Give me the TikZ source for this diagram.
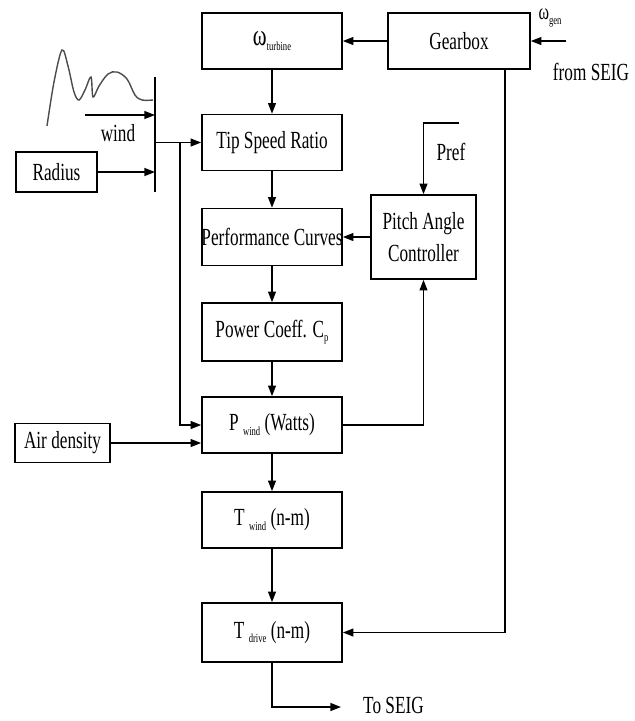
\documentclass[tikz,border=0pt]{standalone}
\usepackage{fontspec}
\setmainfont{Liberation Serif}[FakeStretch=0.7]
\usetikzlibrary{arrows.meta, positioning}
\tikzstyle{block} = [draw, line width=1pt, minimum width=2.8cm, minimum height=1.12cm, inner sep=1pt, align=center]
\tikzstyle{arrow} = [line width=0.8pt,-{Triangle[length=6pt,width=4.5pt]}]
\newcommand{\lowsub}[1]{\raisebox{-0.4ex}{\fontsize{7}{8}\selectfont #1}}

\begin{document}
\begin{tikzpicture}[x=0.02cm, y=-0.02cm, font=\fontsize{14}{18}\selectfont]
    \useasboundingbox (0,0) rectangle (635,721);

    % Main column of blocks
    \node[block] (omega) at (272,41) {{\fontsize{17}{18}\selectfont ω}\lowsub{turbine}};
    \node[block, minimum width=2.84cm] (gearbox) at (459,41) {Gearbox};
    \node[block] (tsr) at (272,142.5) {Tip Speed Ratio};
    \node[block, minimum height=1.14cm] (perf) at (272,237) {\makebox[0pt]{Performance Curves}};
    \node[block, minimum width=2.1cm, minimum height=1.68cm] (pitch) at (423.5,237) {Pitch Angle\\Controller};
    \node[block, minimum height=1.16cm] (cp) at (272,332) {Power Coeff. C\lowsub{p}};
    \node[block] (pwind) at (272,425) {P \lowsub{wind} (Watts)};
    \node[block] (twind) at (272,520) {T \lowsub{wind} (n-m)};
    \node[block, minimum height=1.18cm] (tdrive) at (272,632.5) {T \lowsub{drive} (n-m)};

    % Inputs on the left
    \node[block, minimum width=1.62cm, minimum height=0.8cm] (radius) at (56.5,172) {Radius};
    \node[block, minimum width=1.9cm, minimum height=0.78cm] (air) at (62.5,443) {Air density};

    % Wind profile and summing bar
    \draw[black!70, line width=0.8pt] plot[smooth, tension=0.55] coordinates {(47,126) (54,82) (62,50) (68,66) (74,92) (79,100) (85,90) (91,77) (93,97) (99,86) (108,74) (117,72) (127,79) (135,95) (142,100) (153,100)};
    \coordinate (bartop) at (155,77);
    \coordinate (barbot) at (155,192);
    \draw[line width=1pt] (bartop) -- (barbot);
    \coordinate (windstart) at (85,115);
    \draw[arrow] (windstart) -- (windstart -| bartop);
    \node (windlabel) at (118,133) {wind};
    \draw[arrow] (radius.east) -- (radius.east -| bartop);
    \draw[arrow] (tsr.west -| bartop) -- (tsr.west);
    \coordinate (split) at (180,142.5);
    \draw[arrow] (split) |- (pwind.west);
    \draw[arrow] (air.east) -- (air.east -| pwind.west);

    % Down the column
    \draw[arrow] (gearbox) -- (omega);
    \draw[arrow] (omega) -- (tsr);
    \draw[arrow] (tsr) -- (perf);
    \draw[arrow] (perf) -- (cp);
    \draw[arrow] (cp) -- (pwind);
    \draw[arrow] (pwind) -- (twind);
    \draw[arrow] (twind) -- (tdrive);

    % Generator speed input
    \coordinate (gen) at (566,41);
    \draw[arrow] (gen) -- (gearbox.east);
    \node (genlabel) at (550,18) {\fontsize{13}{14}\selectfont ω\lowsub{gen}};
    \node (fromseig) at (591,72) {from SEIG};

    % Pitch control loop
    \coordinate (pref) at (459,123);
    \draw[arrow] (pref) -| (pitch.north);
    \node (preflabel) at (451,152) {Pref};
    \draw[arrow] (pitch.west) -- (perf.east);
    \draw[arrow] (pwind.east) -| (pitch.south);

    % Gearbox feedback and output
    \draw[arrow] ([xshift=0.92cm]gearbox.south) |- (tdrive.east);
    \coordinate (seig) at (341,707);
    \draw[arrow] (tdrive.south) |- (seig);
    \node[anchor=west] (seiglabel) at (357,705) {To SEIG};
\end{tikzpicture}
\end{document}
